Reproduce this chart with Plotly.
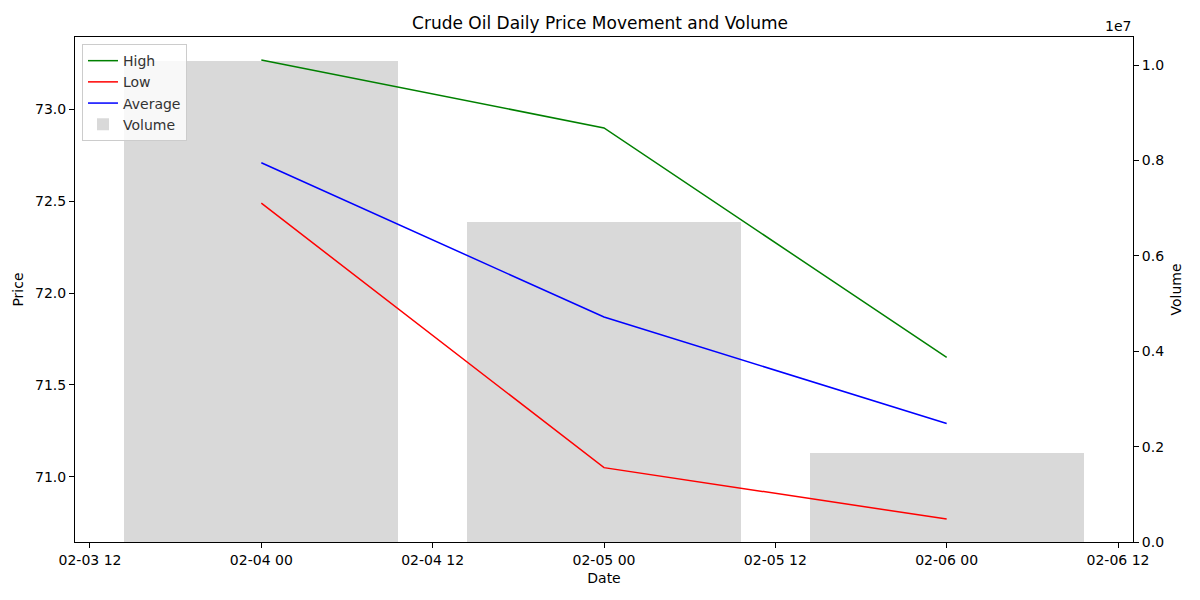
import plotly.graph_objects as go

dates = ["2025-02-04", "2025-02-05", "2025-02-06"]
high = [73.27, 72.90, 71.65]
low = [72.49, 71.05, 70.77]
average = [72.71, 71.87, 71.29]
volume = [10084000, 6709000, 1866000]

x_tickvals = ["2025-02-03 12:00", "2025-02-04 00:00", "2025-02-04 12:00", "2025-02-05 00:00",
              "2025-02-05 12:00", "2025-02-06 00:00", "2025-02-06 12:00"]
x_ticktext = ["02-03 12", "02-04 00", "02-04 12", "02-05 00", "02-05 12", "02-06 00", "02-06 12"]
price_ticks = [71.0, 71.5, 72.0, 72.5, 73.0]
vol_ticks = [0, 2e6, 4e6, 6e6, 8e6, 1e7]

font = dict(family="DejaVu Sans", size=14, color="black")
legend_font = dict(family="DejaVu Sans", size=14, color="#333333")

fig = go.Figure()
fig.add_trace(go.Bar(x=dates, y=volume, name="Volume", marker=dict(color="rgba(128,128,128,0.3)", line=dict(width=0)),
                     width=0.8 * 86400000, yaxis="y", legendrank=4))
fig.add_trace(go.Scatter(x=dates, y=high, name="High", mode="lines", line=dict(color="green", width=1.5),
                         yaxis="y2", legendrank=1))
fig.add_trace(go.Scatter(x=dates, y=low, name="Low", mode="lines", line=dict(color="red", width=1.5),
                         yaxis="y2", legendrank=2))
fig.add_trace(go.Scatter(x=dates, y=average, name="Average", mode="lines", line=dict(color="blue", width=1.5),
                         yaxis="y2", legendrank=3))

axis_common = dict(showgrid=False, zeroline=False, showline=True, linecolor="black", linewidth=1,
                   ticks="outside", ticklen=5, tickcolor="black", tickfont=font)

fig.update_layout(
    width=1200, height=600,
    margin=dict(l=75, r=67, t=37, b=58),
    plot_bgcolor="white", paper_bgcolor="white",
    font=font,
    title=dict(text="Crude Oil Daily Price Movement and Volume", x=0.5, xanchor="center",
               y=1 - 23 / 600, yanchor="middle", font=dict(family="DejaVu Sans", size=17, color="black")),
    xaxis=dict(type="date", range=["2025-02-03 10:57", "2025-02-06 13:03"], tickvals=x_tickvals,
               ticktext=x_ticktext, mirror=True, title=dict(text="Date", standoff=6, font=font), **axis_common),
    yaxis=dict(side="right", range=[0, 10587000], tickvals=vol_ticks,
               ticktext=["0.0", "0.2", "0.4", "0.6", "0.8", "1.0"],
               title=dict(text="Volume", standoff=8, font=font), **axis_common),
    yaxis2=dict(side="left", overlaying="y", range=[70.645, 73.395], tickvals=price_ticks,
                ticktext=["71.0", "71.5", "72.0", "72.5", "73.0"],
                title=dict(text="Price", standoff=8, font=font), **axis_common),
    legend=dict(x=0.0066, y=0.986, xanchor="left", yanchor="top", bgcolor="rgba(255,255,255,0.8)",
                bordercolor="#cccccc", borderwidth=1, font=legend_font, tracegroupgap=0, itemwidth=30),
    showlegend=True,
    annotations=[dict(text="1e7", xref="paper", yref="paper", x=1.0, y=1.0, xanchor="right",
                      yanchor="bottom", showarrow=False, font=font, yshift=1)],
    bargap=0,
)

fig.write_html("out.html")
